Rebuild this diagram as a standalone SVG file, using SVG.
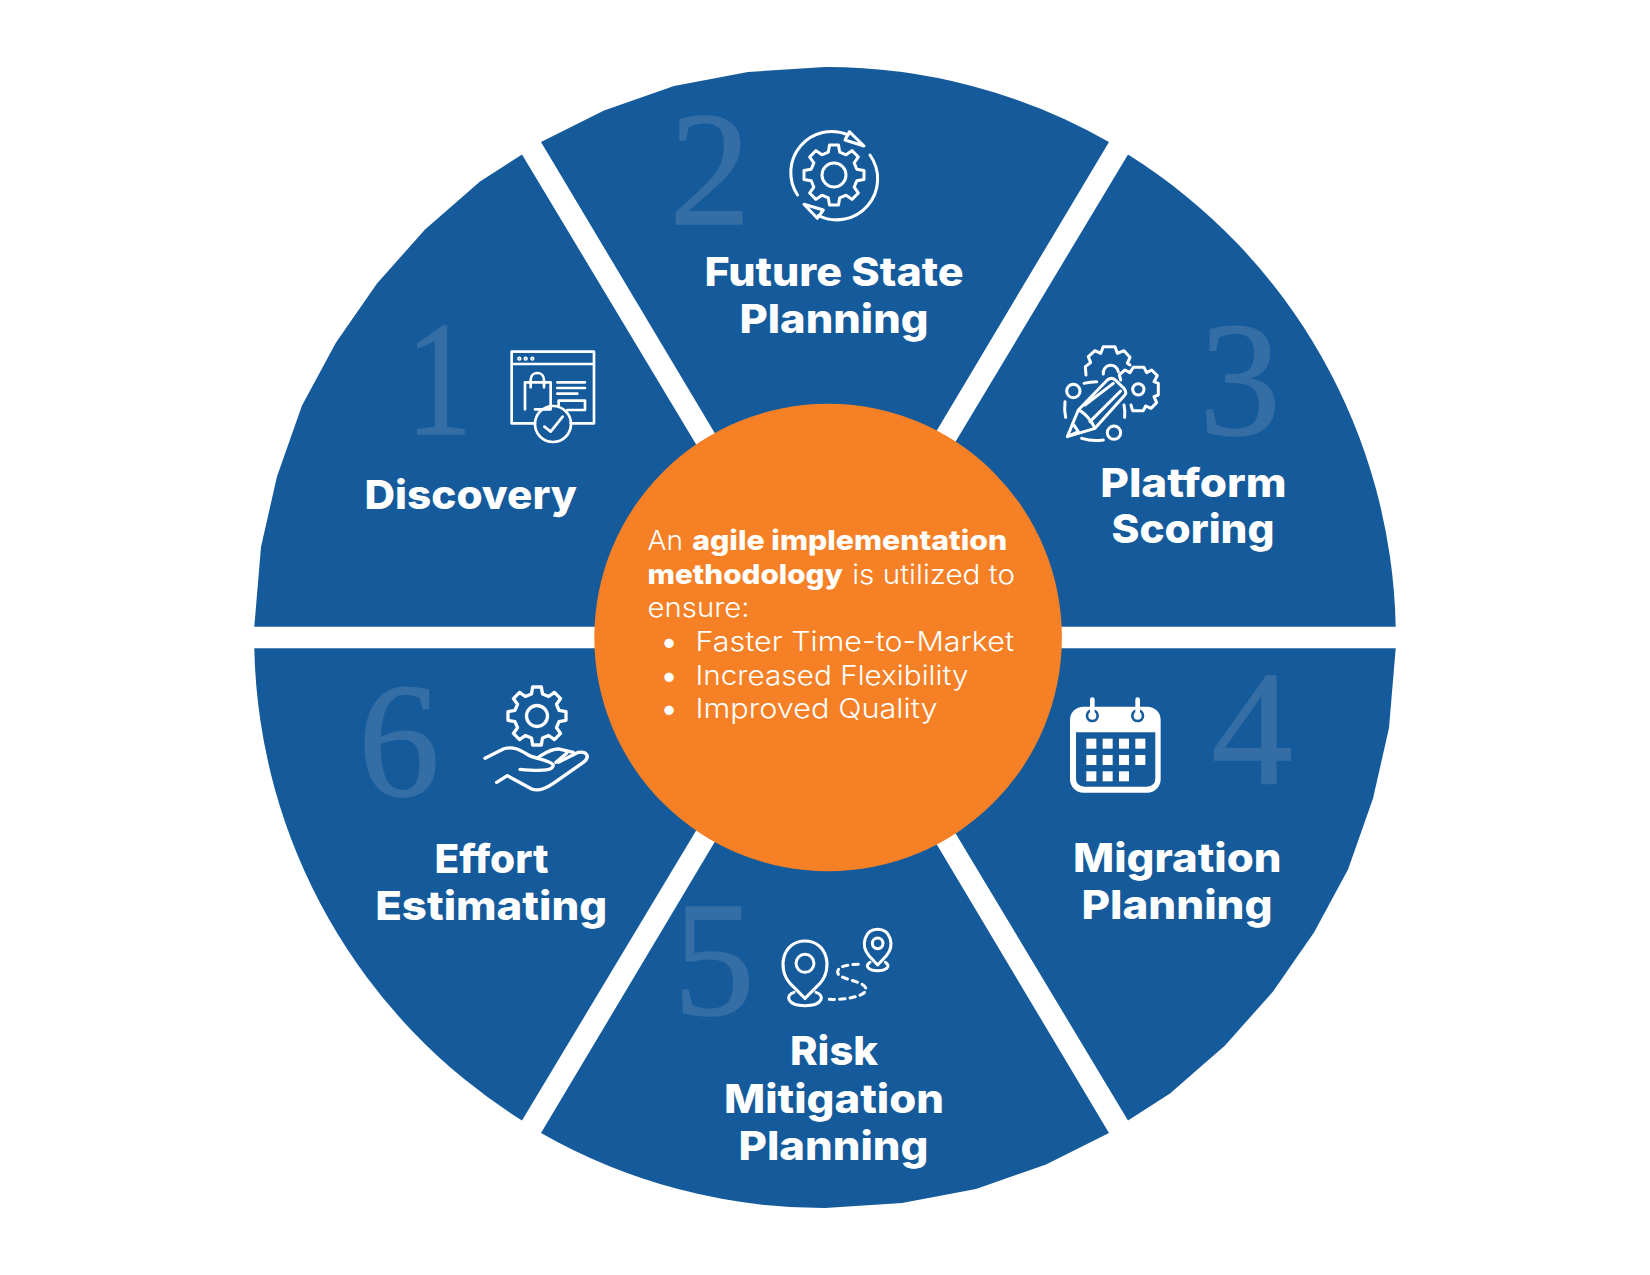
<svg xmlns="http://www.w3.org/2000/svg" width="1650" height="1275" viewBox="0 0 1650 1275">
<style>
.w{fill:#155b9b}
.n{font-family:"Liberation Serif",serif;font-size:163px;fill:#356ea5;stroke:#356ea5;stroke-width:1.5px;text-anchor:middle}
.t{font-family:Inter,"Liberation Sans",sans-serif;font-weight:800;font-size:40px;fill:#fff}
.b{font-family:Inter,"Liberation Sans",sans-serif;font-weight:300;font-size:27.5px;fill:#fff}
.bb{font-family:Inter,"Liberation Sans",sans-serif;font-weight:800;font-size:27.5px;fill:#fff}
.d{font-family:Inter,"Liberation Sans",sans-serif;font-weight:700;font-size:30px;fill:#fff;text-anchor:middle}
.i{fill:none;stroke:#fff;stroke-linecap:round;stroke-linejoin:round}
.g{vector-effect:non-scaling-stroke}
</style>
<defs>
<path id="gear" class="g" d="M-.19-.76L-.15-1L.15-1L.19-.76L.403-.672L.601-.813L.813-.601L.672-.403L.76-.19L1-.15L1 .15L.76 .19L.672 .403L.813 .601L.601 .813L.403 .672L.19 .76L.15 1L-.15 1L-.19 .76L-.403 .672L-.601 .813L-.813 .601L-.672 .403L-.76 .19L-1 .15L-1-.15L-.76-.19L-.672-.403L-.813-.601L-.601-.813L-.403-.672Z"/>
</defs>
<rect width="1650" height="1275" fill="#fff"/>
<g id="step-1">
<polygon class="w" points="254.3,626.7 261,547 277,476.5 302,405.5 336,342.5 377,283.5 425,229.5 480,181.5 522,154.5 805.6,626.7"/>
<text class="n" x="439" y="434" textLength="66" lengthAdjust="spacingAndGlyphs">1</text>
<g class="i" stroke-width="8" transform="translate(480,300) scale(.3333)">
<path d="M165 370H95V155H342V370H272M95 192H342M135 328V247H212V328H165M152 262V240C152 212 192 212 192 240V262M232 247H315M232 264H315M232 281H292M236 302H315V330H262M236 302V315"/>
<circle cx="219" cy="372" r="54"/>
<path d="M193 380L212 395L248 350"/>
<circle cx="118" cy="176" r="2.5"/><circle cx="137" cy="176" r="2.5"/><circle cx="157" cy="176" r="2.5"/>
</g>
<text class="t" x="364.500" y="509" textLength="212.500" lengthAdjust="spacingAndGlyphs">Discovery</text>
</g>
<g id="step-2">
<path class="w" d="M541 142L604 110.500L674 86L748 72L825 67A570.700 570.700 0 0 1 1109 142L825 617.800Z"/>
<text class="n" x="710" y="224">2</text>
<g class="i" stroke-width="3">
<use href="#gear" transform="translate(834,175) scale(30)"/>
<circle cx="834" cy="175" r="12"/>
<path d="M797.500 195A41 41 0 0 1 848.300 135M870 155A41 41 0 0 1 818.300 215.500"/>
<path d="M849.300 131.700L864 146L845 140ZM804 204.300L823.300 210L817.300 218.300Z"/>
</g>
<text class="t" x="704.500" y="286" textLength="259" lengthAdjust="spacingAndGlyphs">Future State</text>
<text class="t" x="739.500" y="333" textLength="189" lengthAdjust="spacingAndGlyphs">Planning</text>
</g>
<g id="step-3">
<path class="w" d="M1395.700 626.700A570.700 570.700 0 0 0 1128 154.500L844.400 626.700Z"/>
<text class="n" x="1240" y="434">3</text>
<g class="i" stroke-width="9" transform="translate(1050,330) scale(.3333)">
<path d="M52 320L85 240L172 150C182 142 190 145 196 150L222 175C230 185 228 192 222 198L135 295ZM85 240C100 245 125 270 135 295M68 280L85 305M52 320L85 305M105 225L190 160M120 275L212 183"/>
<circle cx="70" cy="183" r="20"/><circle cx="192" cy="308" r="20"/>
<path d="M102 160Q120 155 140 155M45 215Q42 240 47 262M95 325Q128 335 160 330M222 225Q226 245 224 262"/>
<path d="M108 135L106 110L122 98L115 80L135 62L152 70L160 50L195 50L202 70L222 62L240 82L232 100L240 105M160 132A22 22 0 0 1 205 125"/>
<path d="M212 150L208 135L225 120L240 128L250 112L282 112L290 128L305 120L322 137L312 155L325 160L325 195L312 200L320 218L303 235L287 228L280 242L248 242L243 225"/>
<circle cx="265" cy="178" r="17"/>
</g>
<text class="t" x="1100.200" y="496.500" textLength="186.300" lengthAdjust="spacingAndGlyphs">Platform</text>
<text class="t" x="1111.500" y="542.500" textLength="163" lengthAdjust="spacingAndGlyphs">Scoring</text>
</g>
<g id="step-4">
<polygon class="w" points="1395.7,648.3 1389,728 1373,798.5 1348,869.5 1314,932.5 1273,991.5 1225,1045.5 1170,1093.5 1128,1120.5 844.4,648.3"/>
<text class="n" x="1252" y="784">4</text>
<g transform="translate(1050,680) scale(.3333)">
<rect x="60" y="80" width="272" height="258" rx="40" fill="#fff"/>
<path d="M78 157H316V295Q316 320 290 320H104Q78 320 78 295Z" fill="#155b9b"/>
<circle cx="127" cy="107" r="16" fill="none" stroke="#155b9b" stroke-width="8"/>
<circle cx="263" cy="107" r="16" fill="none" stroke="#155b9b" stroke-width="8"/>
<path d="M127 59V106M263 59V106" stroke="#fff" stroke-width="14" stroke-linecap="round"/>
<g fill="#fff">
<rect x="109" y="176" width="30" height="30"/><rect x="158" y="176" width="30" height="30"/><rect x="207" y="176" width="30" height="30"/><rect x="256" y="176" width="30" height="30"/>
<rect x="109" y="225" width="30" height="30"/><rect x="158" y="225" width="30" height="30"/><rect x="207" y="225" width="30" height="30"/><rect x="256" y="225" width="30" height="30"/>
<rect x="109" y="274" width="30" height="30"/><rect x="158" y="274" width="30" height="30"/><rect x="207" y="274" width="30" height="30"/>
</g>
</g>
<text class="t" x="1073" y="872" textLength="208.500" lengthAdjust="spacingAndGlyphs">Migration</text>
<text class="t" x="1081.500" y="919" textLength="191" lengthAdjust="spacingAndGlyphs">Planning</text>
</g>
<g id="step-5">
<path class="w" d="M541 1133A570.700 570.700 0 0 0 825 1208L902 1203L976 1189L1046 1164.500L1109 1133L825 657.200Z"/>
<text class="n" x="714" y="1014">5</text>
<g class="i" stroke-width="9" transform="translate(770,915) scale(.3333)">
<path d="M105 250L60 205C20 160 38 78 105 78C172 78 190 160 150 205Z"/>
<circle cx="105" cy="145" r="27"/>
<path d="M72 232C45 240 50 272 105 272C160 272 165 240 138 232"/>
<path d="M323 150L297 122C270 90 285 43 323 43C361 43 376 90 349 122Z"/>
<circle cx="323" cy="85" r="16"/>
<path d="M300 142C280 155 300 167 323 167C346 167 366 155 346 142"/>
<path d="M178 253C220 255 290 245 288 222C285 195 200 195 203 170C205 150 245 148 275 148" stroke-dasharray="16 15"/>
</g>
<text class="t" x="790" y="1065" textLength="88" lengthAdjust="spacingAndGlyphs">Risk</text>
<text class="t" x="724" y="1112.500" textLength="220" lengthAdjust="spacingAndGlyphs">Mitigation</text>
<text class="t" x="738.500" y="1159.500" textLength="190" lengthAdjust="spacingAndGlyphs">Planning</text>
</g>
<g id="step-6">
<path class="w" d="M254.300 648.300A570.700 570.700 0 0 0 522 1120.500L805.600 648.300Z"/>
<text class="n" x="399" y="795">6</text>
<g class="i" stroke-width="3.300">
<use href="#gear" transform="translate(537,716) scale(29)"/>
<circle cx="537" cy="716" r="10.500"/>
</g>
<g class="i" stroke-width="10" transform="translate(470,675) scale(.3333)">
<path d="M45 250L100 222C130 212 150 225 175 240C190 250 240 255 250 270C250 285 225 290 150 283"/>
<path d="M80 322L112 302L185 342C205 350 225 342 250 325L340 262C362 245 350 228 325 232L265 262"/>
<path d="M205 247C225 235 240 222 265 222L310 232M258 262L290 235"/>
</g>
<text class="t" x="434.600" y="872.500" textLength="114" lengthAdjust="spacingAndGlyphs">Effort</text>
<text class="t" x="375.200" y="919.500" textLength="232" lengthAdjust="spacingAndGlyphs">Estimating</text>
</g>
<g id="center">
<circle cx="828.100" cy="637.500" r="233.800" fill="#f58026"/>
<text class="b" x="647.500" y="550" textLength="35.500" lengthAdjust="spacingAndGlyphs">An</text>
<text class="bb" x="692.200" y="550" textLength="315" lengthAdjust="spacingAndGlyphs">agile implementation</text>
<text class="bb" x="647.500" y="584" textLength="195.400" lengthAdjust="spacingAndGlyphs">methodology</text>
<text class="b" x="852.200" y="584" textLength="162.800" lengthAdjust="spacingAndGlyphs">is utilized to</text>
<text class="b" x="647.500" y="617" textLength="102" lengthAdjust="spacingAndGlyphs">ensure:</text>
<text class="d" x="669" y="652">•</text>
<text class="d" x="669" y="686">•</text>
<text class="d" x="669" y="719">•</text>
<text class="b" x="695.500" y="651" textLength="318.500" lengthAdjust="spacingAndGlyphs">Faster Time-to-Market</text>
<text class="b" x="695.500" y="685" textLength="273" lengthAdjust="spacingAndGlyphs">Increased Flexibility</text>
<text class="b" x="695.500" y="717.500" textLength="242" lengthAdjust="spacingAndGlyphs">Improved Quality</text>
</g>
</svg>
